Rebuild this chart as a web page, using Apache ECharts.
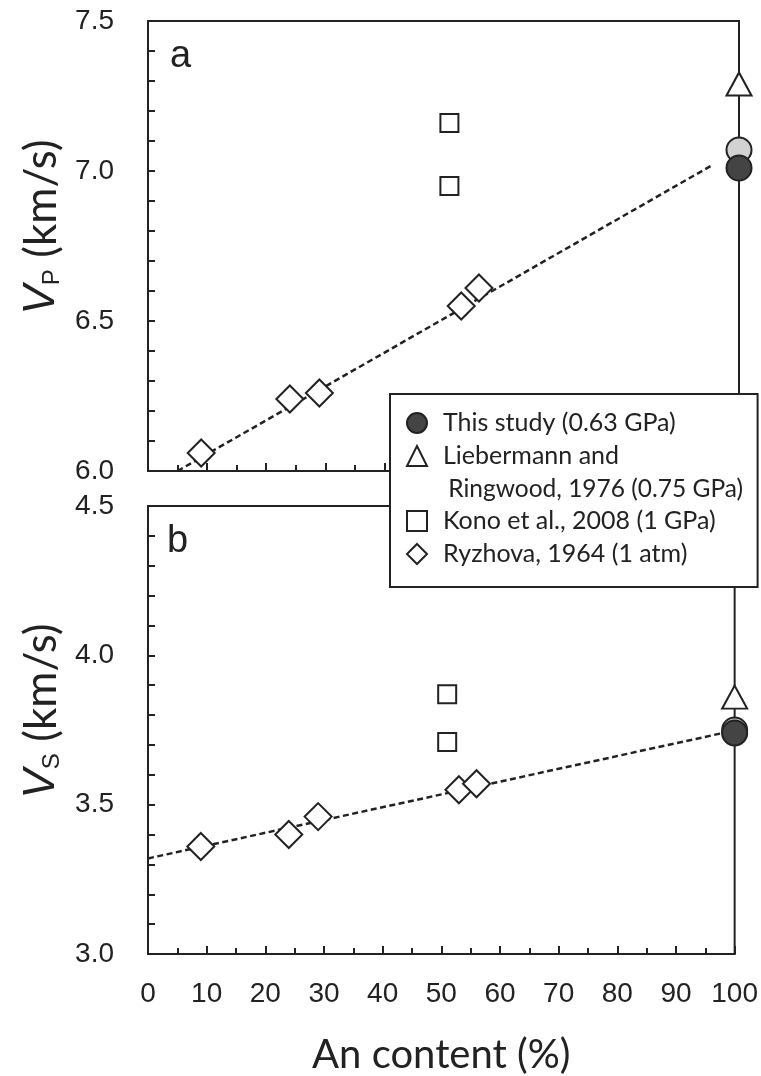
<!DOCTYPE html>
<html>
<head>
<meta charset="utf-8">
<script src="https://cdn.jsdelivr.net/npm/echarts@6/dist/echarts.min.js"></script>
<style>
html, body { margin: 0; padding: 0; background: #fff; }
#chart { width: 761px; height: 1076px; }
</style>
</head>
<body>
<div id="chart"></div>
<script>
// An content (%) and velocities (km/s)
let thisStudyAn = [100];
let thisStudyVp = [7.01];
let thisStudyVs = [3.74];
// light grey point drawn behind "this study"
let thisStudyAltVp = [7.07];
let thisStudyAltVs = [3.75];

let liebermannAn = [100];
let liebermannVp = [7.29];
let liebermannVs = [3.86];

let konoAn = [51, 51];
let konoVp = [7.16, 6.95];
let konoVs = [3.87, 3.71];

let ryzhovaAn = [9, 24, 29, 53, 56];
let ryzhovaVp = [6.06, 6.24, 6.26, 6.55, 6.61];
let ryzhovaVs = [3.36, 3.40, 3.46, 3.55, 3.57];

// dashed trend lines
let fitVpAn = [5, 95.5];
let fitVp = [6.0, 7.02];
let fitVsAn = [0, 98];
let fitVs = [3.32, 3.74];

let seriesNames = [
    "This study (0.63 GPa)",
    "Liebermann and Ringwood, 1976 (0.75 GPa)",
    "Kono et al., 2008 (1 GPa)",
    "Ryzhova, 1964 (1 atm)"
];

let ink = '#222';

function pairs(xs, ys)
{
    return xs.map((x, i) => [x, ys[i]]);
}

var myChart = echarts.init(document.getElementById('chart'));

let openMark = { color: '#fff', borderColor: ink, borderWidth: 2, opacity: 1 };

// builds the series of one panel
function panelSeries(idx, vThis, vAlt, vLieb, vKono, vRyz, fitX, fitY)
{
    return [
        {
            name: 'fit ' + idx, type: 'line', xAxisIndex: idx, yAxisIndex: idx, z: 1,
            symbol: 'none', silent: true,
            lineStyle: { color: ink, width: 2.5, type: [6, 3.5] },
            data: pairs(fitX, fitY)
        },
        {
            name: 'alt ' + idx, type: 'scatter', xAxisIndex: idx, yAxisIndex: idx, clip: false,
            symbol: 'circle', symbolSize: 25,
            itemStyle: { color: '#d2d2d2', borderColor: ink, borderWidth: 2, opacity: 1 },
            data: pairs(thisStudyAn, vAlt)
        },
        {
            name: seriesNames[0], type: 'scatter', xAxisIndex: idx, yAxisIndex: idx, clip: false,
            symbol: 'circle', symbolSize: 25,
            itemStyle: { color: '#444', borderColor: ink, borderWidth: 2, opacity: 1 },
            data: pairs(thisStudyAn, vThis)
        },
        {
            name: seriesNames[1], type: 'scatter', xAxisIndex: idx, yAxisIndex: idx, clip: false,
            symbol: 'triangle', symbolSize: [25, 23],
            itemStyle: openMark,
            data: pairs(liebermannAn, vLieb)
        },
        {
            name: seriesNames[2], type: 'scatter', xAxisIndex: idx, yAxisIndex: idx, clip: false,
            symbol: 'rect', symbolSize: 18,
            itemStyle: openMark,
            data: pairs(konoAn, vKono)
        },
        {
            name: seriesNames[3], type: 'scatter', xAxisIndex: idx, yAxisIndex: idx, clip: false,
            symbol: 'diamond', symbolSize: 27,
            itemStyle: openMark,
            data: pairs(ryzhovaAn, vRyz)
        }
    ];
}

let tickLine = { color: ink, width: 2 };

function makeXAxis(idx, showLabels)
{
    return {
        gridIndex: idx, type: 'value', min: 0, max: 100, interval: 10,
        name: showLabels ? 'An content (%)' : '',
        nameLocation: 'middle', nameGap: 81,
        nameTextStyle: { fontFamily: 'Lato', fontSize: 40, color: ink },
        axisLine: { show: true, onZero: false, lineStyle: tickLine },
        axisTick: { inside: true, length: 8, lineStyle: tickLine },
        minorTick: { show: true, splitNumber: 2, length: 6, lineStyle: tickLine },
        axisLabel: { show: showLabels, margin: 26, fontFamily: 'Liberation Sans', fontSize: 28, color: ink },
        splitLine: { show: false }
    };
}

function makeYAxis(idx, min, max, sub)
{
    return {
        gridIndex: idx, type: 'value', min: min, max: max, interval: 0.5,
        name: '{v|V}{s|' + sub + '}{u| (km/s)}',
        nameLocation: 'middle', nameGap: 80, nameRotate: 90,
        nameTextStyle: {
            // left padding lifts the rotated title a little above the middle
            padding: [0, 0, 0, 38],
            rich: {
                v: { fontFamily: 'Liberation Sans', fontStyle: 'italic', fontSize: 44, color: ink },
                s: { fontFamily: 'Liberation Sans', fontSize: 24, color: ink, verticalAlign: 'bottom' },
                u: { fontFamily: 'Lato', fontSize: 44, color: ink }
            }
        },
        axisLine: { show: true, onZero: false, lineStyle: tickLine },
        axisTick: { inside: true, length: 7, lineStyle: tickLine },
        minorTick: { show: true, splitNumber: 5, length: 7, lineStyle: tickLine },
        axisLabel: {
            margin: 34, fontFamily: 'Liberation Sans', fontSize: 28, color: ink,
            formatter: v => v.toFixed(1)
        },
        splitLine: { show: false }
    };
}

// legend entry text is padded so rows keep the spacing of the figure,
// the second entry carries on in a second line below its marker
let tallRow = { padding: [32, 0, 32, 11] };

let option = {
    animation: false,
    backgroundColor: '#fff',
    grid: [
        { left: 148, top: 21, width: 591, height: 450, show: true, borderColor: ink, borderWidth: 2, backgroundColor: 'transparent' },
        { left: 148, top: 506, width: 591, height: 449, show: true, borderColor: ink, borderWidth: 2, backgroundColor: 'transparent' }
    ],
    xAxis: [makeXAxis(0, false), makeXAxis(1, true)],
    yAxis: [makeYAxis(0, 6.0, 7.5, 'P'), makeYAxis(1, 3.0, 4.5, 'S')],
    legend: {
        orient: 'vertical', left: 390, top: 394,
        padding: [13, 42, 17, 16],
        itemGap: -31, itemWidth: 20, itemHeight: 20,
        backgroundColor: '#fff', borderColor: ink, borderWidth: 2,
        selectedMode: false,
        formatter: function (name) {
            return name === seriesNames[1] ? 'Liebermann and' : name;
        },
        textStyle: {
            fontFamily: 'Lato', fontSize: 25, color: ink, lineHeight: 32,
            backgroundColor: 'rgba(255,255,255,0)', padding: [0, 0, 0, 11]
        },
        data: [
            { name: seriesNames[0], icon: 'circle', itemStyle: { color: '#444', borderColor: ink, borderWidth: 2 } },
            { name: seriesNames[1], icon: 'triangle', itemStyle: openMark, textStyle: tallRow },
            { name: seriesNames[2], icon: 'rect', itemStyle: openMark, textStyle: tallRow },
            { name: seriesNames[3], icon: 'diamond', itemStyle: openMark }
        ]
    },
    graphic: [
        { type: 'text', x: 170, y: 57, style: { text: 'a', font: '38px "Liberation Sans"', fill: ink, verticalAlign: 'middle' } },
        { type: 'text', x: 167, y: 542, style: { text: 'b', font: '38px "Liberation Sans"', fill: ink, verticalAlign: 'middle' } },
        { type: 'text', x: 442, y: 489, z: 20, style: { text: ' Ringwood, 1976 (0.75 GPa)', font: '24.5px Lato', fill: ink, verticalAlign: 'middle' } }
    ],
    series: [].concat(
        panelSeries(0, thisStudyVp, thisStudyAltVp, liebermannVp, konoVp, ryzhovaVp, fitVpAn, fitVp),
        panelSeries(1, thisStudyVs, thisStudyAltVs, liebermannVs, konoVs, ryzhovaVs, fitVsAn, fitVs)
    )
};

myChart.setOption(option);
</script>
</body>
</html>
